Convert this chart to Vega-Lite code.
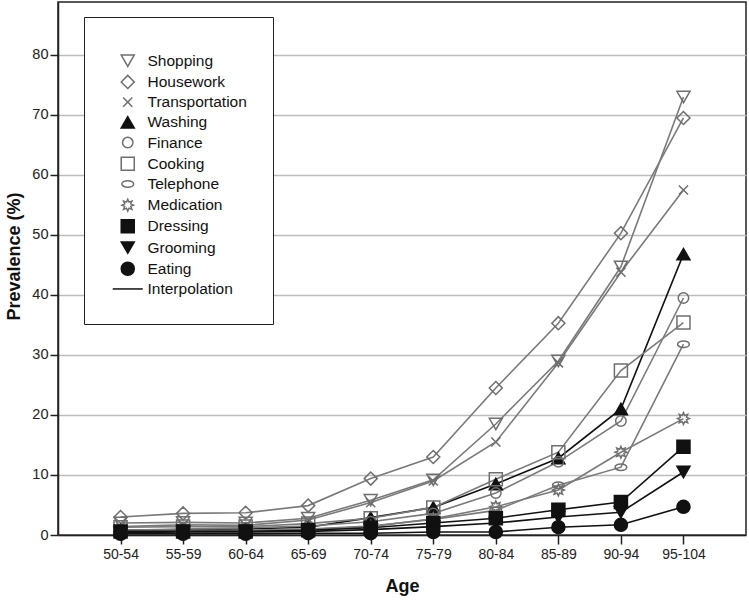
{
  "$schema": "https://vega.github.io/schema/vega-lite/v6.json",
  "width": 688,
  "height": 533,
  "autosize": {"type": "none"},
  "padding": {"left": 58, "top": 2, "right": 3, "bottom": 66},
  "background": "white",
  "config": {
    "font": "Liberation Sans",
    "view": {"stroke": "#222222", "strokeWidth": 1.5}
  },
  "data": {"values": [
    {"a":"Shopping","age":"50-54","p":2.0},{"a":"Shopping","age":"55-59","p":2.1},{"a":"Shopping","age":"60-64","p":2.0},{"a":"Shopping","age":"65-69","p":2.8},{"a":"Shopping","age":"70-74","p":5.8},{"a":"Shopping","age":"75-79","p":9.2},{"a":"Shopping","age":"80-84","p":18.5},{"a":"Shopping","age":"85-89","p":29.0},{"a":"Shopping","age":"90-94","p":44.7},{"a":"Shopping","age":"95-104","p":73.0},
    {"a":"Housework","age":"50-54","p":3.0},{"a":"Housework","age":"55-59","p":3.6},{"a":"Housework","age":"60-64","p":3.7},{"a":"Housework","age":"65-69","p":4.9},{"a":"Housework","age":"70-74","p":9.4},{"a":"Housework","age":"75-79","p":13.0},{"a":"Housework","age":"80-84","p":24.5},{"a":"Housework","age":"85-89","p":35.3},{"a":"Housework","age":"90-94","p":50.3},{"a":"Housework","age":"95-104","p":69.5},
    {"a":"Transportation","age":"50-54","p":1.4},{"a":"Transportation","age":"55-59","p":1.7},{"a":"Transportation","age":"60-64","p":1.6},{"a":"Transportation","age":"65-69","p":2.5},{"a":"Transportation","age":"70-74","p":5.4},{"a":"Transportation","age":"75-79","p":9.0},{"a":"Transportation","age":"80-84","p":15.5},{"a":"Transportation","age":"85-89","p":28.7},{"a":"Transportation","age":"90-94","p":43.8},{"a":"Transportation","age":"95-104","p":57.5},
    {"a":"Washing","age":"50-54","p":0.8},{"a":"Washing","age":"55-59","p":0.9},{"a":"Washing","age":"60-64","p":1.0},{"a":"Washing","age":"65-69","p":1.3},{"a":"Washing","age":"70-74","p":2.9},{"a":"Washing","age":"75-79","p":4.6},{"a":"Washing","age":"80-84","p":8.5},{"a":"Washing","age":"85-89","p":12.8},{"a":"Washing","age":"90-94","p":21.0},{"a":"Washing","age":"95-104","p":46.8},
    {"a":"Finance","age":"50-54","p":0.8},{"a":"Finance","age":"55-59","p":1.0},{"a":"Finance","age":"60-64","p":1.2},{"a":"Finance","age":"65-69","p":1.5},{"a":"Finance","age":"70-74","p":2.2},{"a":"Finance","age":"75-79","p":3.6},{"a":"Finance","age":"80-84","p":7.0},{"a":"Finance","age":"85-89","p":12.2},{"a":"Finance","age":"90-94","p":19.0},{"a":"Finance","age":"95-104","p":39.5},
    {"a":"Cooking","age":"50-54","p":1.3},{"a":"Cooking","age":"55-59","p":1.4},{"a":"Cooking","age":"60-64","p":1.4},{"a":"Cooking","age":"65-69","p":1.9},{"a":"Cooking","age":"70-74","p":2.8},{"a":"Cooking","age":"75-79","p":4.6},{"a":"Cooking","age":"80-84","p":9.3},{"a":"Cooking","age":"85-89","p":13.8},{"a":"Cooking","age":"90-94","p":27.4},{"a":"Cooking","age":"95-104","p":35.4},
    {"a":"Telephone","age":"50-54","p":0.7},{"a":"Telephone","age":"55-59","p":0.8},{"a":"Telephone","age":"60-64","p":0.8},{"a":"Telephone","age":"65-69","p":1.0},{"a":"Telephone","age":"70-74","p":1.5},{"a":"Telephone","age":"75-79","p":2.6},{"a":"Telephone","age":"80-84","p":4.1},{"a":"Telephone","age":"85-89","p":8.3},{"a":"Telephone","age":"90-94","p":11.3},{"a":"Telephone","age":"95-104","p":31.8},
    {"a":"Medication","age":"50-54","p":0.6},{"a":"Medication","age":"55-59","p":0.7},{"a":"Medication","age":"60-64","p":0.7},{"a":"Medication","age":"65-69","p":0.9},{"a":"Medication","age":"70-74","p":1.4},{"a":"Medication","age":"75-79","p":2.7},{"a":"Medication","age":"80-84","p":4.7},{"a":"Medication","age":"85-89","p":7.5},{"a":"Medication","age":"90-94","p":13.8},{"a":"Medication","age":"95-104","p":19.4},
    {"a":"Dressing","age":"50-54","p":0.6},{"a":"Dressing","age":"55-59","p":0.6},{"a":"Dressing","age":"60-64","p":0.6},{"a":"Dressing","age":"65-69","p":0.8},{"a":"Dressing","age":"70-74","p":1.2},{"a":"Dressing","age":"75-79","p":2.0},{"a":"Dressing","age":"80-84","p":2.8},{"a":"Dressing","age":"85-89","p":4.2},{"a":"Dressing","age":"90-94","p":5.5},{"a":"Dressing","age":"95-104","p":14.7},
    {"a":"Grooming","age":"50-54","p":0.4},{"a":"Grooming","age":"55-59","p":0.5},{"a":"Grooming","age":"60-64","p":0.5},{"a":"Grooming","age":"65-69","p":0.6},{"a":"Grooming","age":"70-74","p":0.9},{"a":"Grooming","age":"75-79","p":1.4},{"a":"Grooming","age":"80-84","p":2.0},{"a":"Grooming","age":"85-89","p":3.0},{"a":"Grooming","age":"90-94","p":3.8},{"a":"Grooming","age":"95-104","p":10.5},
    {"a":"Eating","age":"50-54","p":0.2},{"a":"Eating","age":"55-59","p":0.2},{"a":"Eating","age":"60-64","p":0.2},{"a":"Eating","age":"65-69","p":0.3},{"a":"Eating","age":"70-74","p":0.3},{"a":"Eating","age":"75-79","p":0.5},{"a":"Eating","age":"80-84","p":0.5},{"a":"Eating","age":"85-89","p":1.3},{"a":"Eating","age":"90-94","p":1.7},{"a":"Eating","age":"95-104","p":4.7}
  ]},
  "encoding": {
    "x": {
      "field": "age", "type": "ordinal",
      "sort": ["50-54","55-59","60-64","65-69","70-74","75-79","80-84","85-89","90-94","95-104"],
      "scale": {"type": "point", "padding": 1.048},
      "axis": {
        "title": "Age", "titleFont": "Liberation Sans", "titleFontSize": 18, "titleFontWeight": "bold", "titleColor": "#111111", "titlePadding": 16,
        "labelAngle": 0, "labelFontSize": 14, "labelColor": "#222222", "labelPadding": 3,
        "tickSize": 9, "tickColor": "#222222", "tickWidth": 1.5,
        "domainColor": "#222222", "domainWidth": 1.5, "grid": false
      }
    },
    "y": {
      "field": "p", "type": "quantitative",
      "scale": {"domain": [0, 88.83], "nice": false, "zero": true},
      "axis": {
        "title": "Prevalence (%)", "titleFont": "Liberation Sans", "titleFontSize": 18, "titleFontWeight": "bold", "titleColor": "#111111", "titlePadding": 8, "titleY": 254,
        "values": [0,10,20,30,40,50,60,70,80], "labelFontSize": 14.5, "labelColor": "#222222", "labelPadding": 2,
        "tickSize": 8, "tickColor": "#222222", "tickWidth": 1.5,
        "domainColor": "#222222", "domainWidth": 1.5,
        "grid": true, "gridColor": "#bdbdbd", "gridWidth": 1.5
      }
    }
  },
  "layer": [
    {
      "mark": {"type": "line", "strokeWidth": 1.6},
      "encoding": {
        "color": {
          "field": "a", "type": "nominal", "legend": null,
          "scale": {
            "domain": ["Shopping","Housework","Transportation","Washing","Finance","Cooking","Telephone","Medication","Dressing","Grooming","Eating"],
            "range": ["#7a7a7a","#7a7a7a","#7a7a7a","#111111","#7a7a7a","#7a7a7a","#7a7a7a","#7a7a7a","#111111","#111111","#111111"]
          }
        }
      }
    },
    {
      "mark": {"type": "point", "size": 170, "strokeWidth": 1.5, "opacity": 1},
      "encoding": {
        "shape": {
          "field": "a", "type": "nominal",
          "scale": {
            "domain": ["Shopping","Housework","Transportation","Washing","Finance","Cooking","Telephone","Medication","Dressing","Grooming","Eating","Interpolation"],
            "range": ["triangle-down","diamond","M-0.7,-0.7L0.7,0.7M-0.7,0.7L0.7,-0.7","triangle-up","M-0.8,0A0.8,0.8,0,1,1,0.8,0A0.8,0.8,0,1,1,-0.8,0Z","square","M-0.9,0A0.9,0.5,0,1,1,0.9,0A0.9,0.5,0,1,1,-0.9,0Z","M0.9,0L0.46,0.19L0.64,0.64L0.19,0.46L0,0.9L-0.19,0.46L-0.64,0.64L-0.46,0.19L-0.9,0L-0.46,-0.19L-0.64,-0.64L-0.19,-0.46L0,-0.9L0.19,-0.46L0.64,-0.64L0.46,-0.19Z","square","triangle-down","circle","M-2.3,0L2.3,0"]
          },
          "legend": {
            "title": " ", "titleFontSize": 7, "titlePadding": 3,
            "orient": "none", "legendX": 26, "legendY": 15,
            "direction": "vertical",
            "strokeColor": "#222222", "fillColor": "white", "padding": 26,
            "labelFont": "Liberation Sans", "labelFontSize": 15.5, "labelColor": "#111111", "labelOffset": 12,
            "symbolOffset": 10,
            "symbolSize": 170, "symbolStrokeWidth": 1.5, "rowPadding": 2.2, "symbolOpacity": 1, "labelLimit": 300
          }
        },
        "stroke": {
          "field": "a", "type": "nominal",
          "scale": {
            "domain": ["Shopping","Housework","Transportation","Washing","Finance","Cooking","Telephone","Medication","Dressing","Grooming","Eating","Interpolation"],
            "range": ["#6e6e6e","#6e6e6e","#6e6e6e","#111111","#6e6e6e","#6e6e6e","#6e6e6e","#6e6e6e","#111111","#111111","#111111","#111111"]
          }
        },
        "fill": {
          "field": "a", "type": "nominal",
          "scale": {
            "domain": ["Shopping","Housework","Transportation","Washing","Finance","Cooking","Telephone","Medication","Dressing","Grooming","Eating","Interpolation"],
            "range": ["transparent","transparent","transparent","#111111","transparent","transparent","transparent","transparent","#111111","#111111","#111111","transparent"]
          }
        }
      }
    }
  ]
}
